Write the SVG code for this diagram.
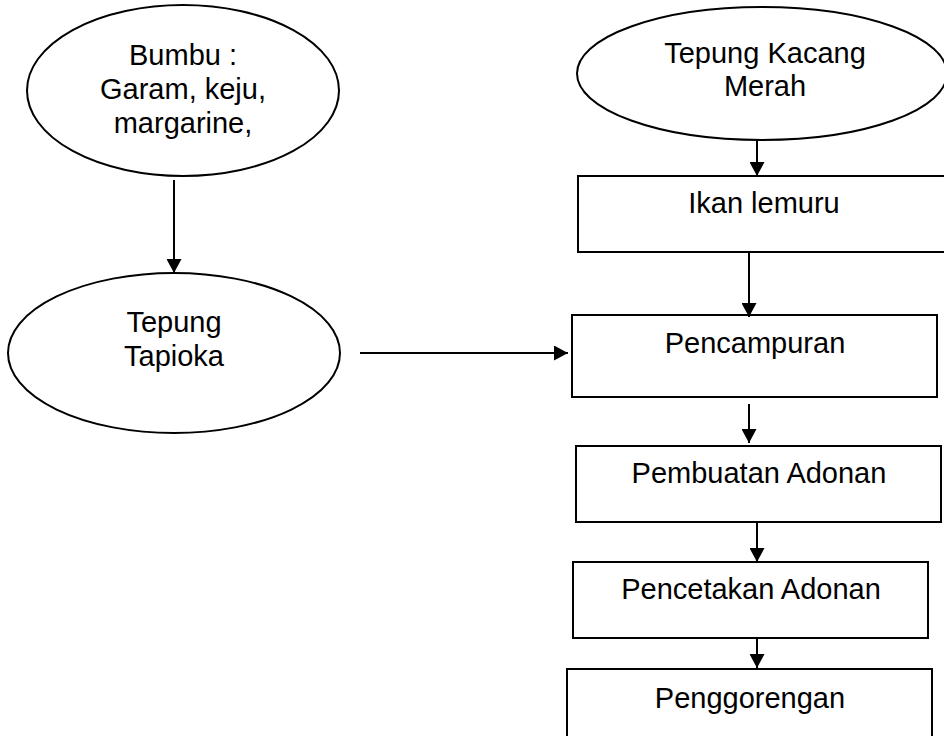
<svg xmlns="http://www.w3.org/2000/svg" width="944" height="736" viewBox="0 0 944 736">
<defs>
<style>
.shape{fill:#fff;stroke:#000;stroke-width:2}
.lbl{font-family:"Liberation Sans",Arial,sans-serif;font-size:29px;fill:#000;text-anchor:middle}
.edge{stroke:#000;stroke-width:2;fill:none}
</style>
<marker id="ah" viewBox="0 0 14 15" refX="14" refY="7.5" markerWidth="14" markerHeight="15" markerUnits="userSpaceOnUse" orient="auto">
<path d="M0,0 L14,7.5 L0,15 Z" fill="#000"/>
</marker>
</defs>
<rect width="944" height="736" fill="#fff"/>
<g id="bumbu">
<ellipse class="shape" cx="183" cy="90.5" rx="156" ry="85.5"/>
<text class="lbl" x="183" y="65">Bumbu :</text>
<text class="lbl" x="183" y="99">Garam, keju,</text>
<text class="lbl" x="183" y="133">margarine,</text>
</g>
<g id="tapioka">
<ellipse class="shape" cx="174" cy="353" rx="166" ry="80"/>
<text class="lbl" x="174" y="332">Tepung</text>
<text class="lbl" x="174" y="366">Tapioka</text>
</g>
<g id="kacang">
<ellipse class="shape" cx="762" cy="73.5" rx="185" ry="66.5"/>
<text class="lbl" x="765" y="63">Tepung Kacang</text>
<text class="lbl" x="765" y="96">Merah</text>
</g>
<g id="ikan">
<rect class="shape" x="578" y="176" width="380" height="76"/>
<text class="lbl" x="764" y="213">Ikan lemuru</text>
</g>
<g id="pencampuran">
<rect class="shape" x="572" y="315" width="365" height="82"/>
<text class="lbl" x="755" y="353">Pencampuran</text>
</g>
<g id="pembuatan">
<rect class="shape" x="576" y="446" width="365" height="76"/>
<text class="lbl" x="759" y="483">Pembuatan Adonan</text>
</g>
<g id="pencetakan">
<rect class="shape" x="573" y="562" width="355" height="76"/>
<text class="lbl" x="751" y="599">Pencetakan Adonan</text>
</g>
<g id="penggorengan">
<rect class="shape" x="567" y="669" width="365" height="90"/>
<text class="lbl" x="750" y="708">Penggorengan</text>
</g>
<g id="connectors">
<line class="edge" x1="174" y1="180" x2="174" y2="273" marker-end="url(#ah)"/>
<line class="edge" x1="360" y1="353" x2="568" y2="353" marker-end="url(#ah)"/>
<line class="edge" x1="757" y1="140" x2="757" y2="176" marker-end="url(#ah)"/>
<line class="edge" x1="749" y1="252" x2="749" y2="317" marker-end="url(#ah)"/>
<line class="edge" x1="749" y1="404" x2="749" y2="443" marker-end="url(#ah)"/>
<line class="edge" x1="757" y1="522" x2="757" y2="562" marker-end="url(#ah)"/>
<line class="edge" x1="757" y1="638" x2="757" y2="668" marker-end="url(#ah)"/>
</g>
</svg>
